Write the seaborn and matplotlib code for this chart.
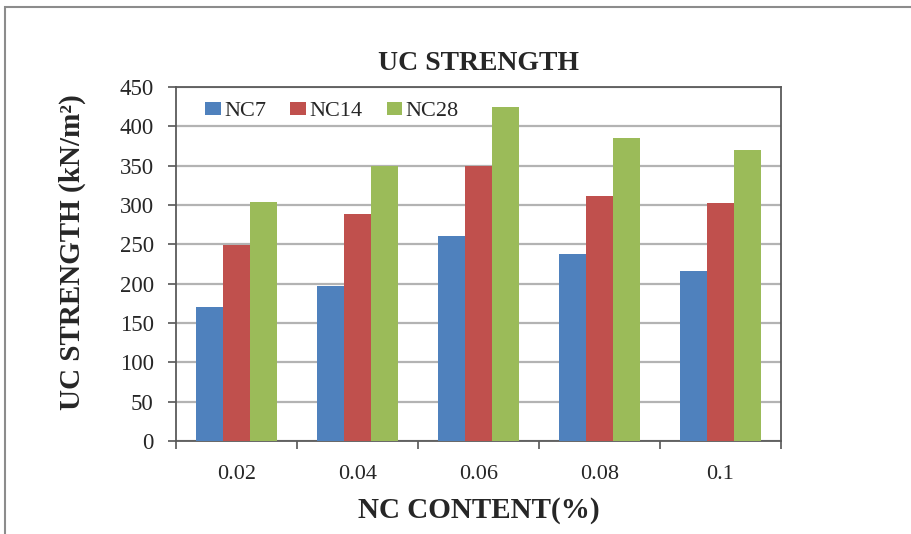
import matplotlib
matplotlib.use("Agg")
import matplotlib.pyplot as plt
from matplotlib.patches import Rectangle
from matplotlib.ticker import FixedLocator
import numpy as np
import pandas as pd
import seaborn as sns

# NC content (%) on the x axis
contents = ["0.02", "0.04", "0.06", "0.08", "0.1"]
# UC strength (kN/m²) after 7, 14 and 28 days
nc7 = [170, 197, 260, 238, 216]
nc14 = [249, 289, 350, 311, 302]
nc28 = [304, 350, 424, 385, 370]
series_names = ["NC7", "NC14", "NC28"]
y_ticks = [0, 50, 100, 150, 200, 250, 300, 350, 400, 450]

df = pd.DataFrame({
    "content": contents * 3,
    "strength": nc7 + nc14 + nc28,
    "series": [s for s in series_names for _ in contents],
})

sns.set_theme(style="white")
plt.rcParams["font.family"] = ["Liberation Serif", "DejaVu Serif"]

fig = plt.figure(figsize=(9.11, 5.34), dpi=100)
ax = fig.add_axes([0.1932, 0.1742, 0.6641, 0.6629])

palette = {"NC7": "#4F81BD", "NC14": "#C0504D", "NC28": "#9BBB59"}
sns.barplot(data=df, x="content", y="strength", hue="series",
            order=contents, hue_order=series_names, palette=palette,
            saturation=1, width=0.67, edgecolor="none", ax=ax, zorder=3)

ax.set_ylim(0, 450)
ax.set_xlim(-0.5, len(contents) - 0.5)
ax.set_yticks(y_ticks)
ax.yaxis.grid(True, color="#b3b3b3", linewidth=1.6, zorder=0)
ax.xaxis.grid(False)
ax.set_axisbelow(True)

# tick marks sit between the category groups
ax.xaxis.set_minor_locator(FixedLocator(np.arange(-0.5, len(contents), 1.0)))
ax.tick_params(axis="x", which="major", length=0, pad=17, labelsize=16)
ax.tick_params(axis="x", which="minor", length=6, width=1.2, color="#555555", direction="out", bottom=True)
ax.tick_params(axis="y", which="major", length=6, width=1.2, color="#555555", direction="out", left=True, pad=10, labelsize=16.5)

for side in ["left", "bottom", "top", "right"]:
    ax.spines[side].set_visible(True)
    ax.spines[side].set_color("#5a5a5a")
    ax.spines[side].set_linewidth(1.3)

ax.set_title("UC STRENGTH", fontsize=20, fontweight="bold", pad=12)
ax.set_xlabel("NC CONTENT(%)", fontsize=21, fontweight="bold", labelpad=10)
ax.set_ylabel("UC STRENGTH (kN/m²)", fontsize=21, fontweight="bold")
ax.yaxis.set_label_coords(-0.148, 0.534)

ax.legend(loc="upper left", bbox_to_anchor=(0.048, 0.958), ncol=3, frameon=False,
          fontsize=16, handlelength=0.7, handleheight=0.5, handletextpad=0.15,
          columnspacing=1.1, borderaxespad=0, borderpad=0, title=None)

# outer chart-area border
fig.patches.append(Rectangle((5 / 911, -0.05), 1.1, 1 - 7 / 534 + 0.05,
                             transform=fig.transFigure, fill=False,
                             edgecolor="#8c8c8c", linewidth=1.5, zorder=0))

fig.savefig("out.png", dpi=100)
